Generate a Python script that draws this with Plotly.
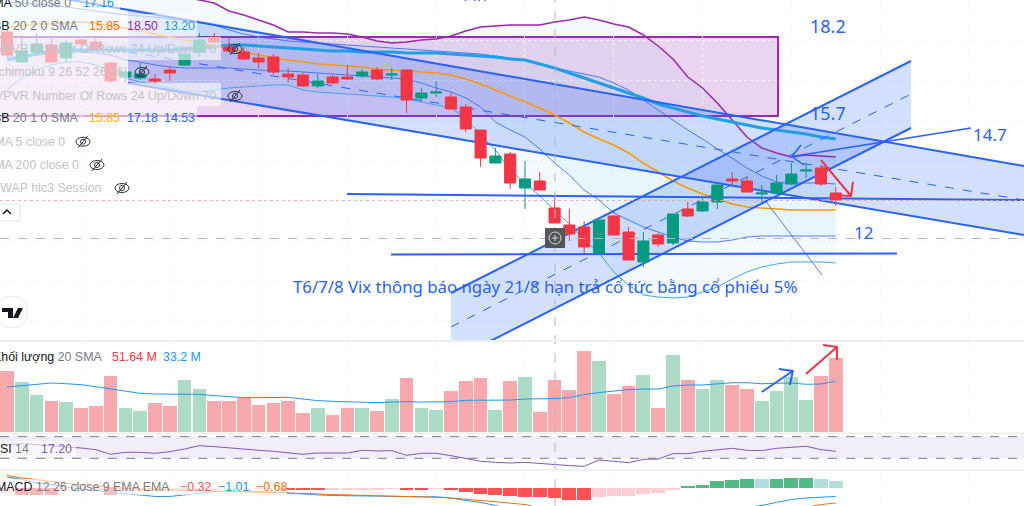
import plotly.graph_objects as go

W = 1024
H = 506

# daily candles, prices
OPEN = [17.925,17.175,17.425,17.6,17.275,17.725,17.675,17.15,16.8,16.775,
        16.75,16.975,17.1,17.425,17.8,17.55,17.425,17.275,17.3,16.875,
        16.85,16.575,16.8,16.8,16.825,16.975,16.85,16.975,16.275,16.4,
        16.3,16.05,15.475,14.65,14.875,14.025,14.2,13.525,13.1,13.05,
        12.4,13.325,12.925,12.175,12.85,12.65,13.5,13.45,13.675,14.25,
        14.2,13.875,13.9,14.125,14.45,14.525,13.9]
CLOSE = [17.35,17.45,17.625,17.175,17.65,17.625,17.5,16.7,16.925,16.875,
         16.7,16.9,17.375,17.725,17.675,17.45,17.25,17.175,16.925,16.8,
         16.575,16.7,16.65,16.75,16.925,16.75,16.875,16.225,16.4,16.425,
         16.0,15.5,14.775,14.825,14.15,14.25,13.975,13.15,12.875,12.55,
         13.225,12.85,12.225,12.7,12.625,13.375,13.325,13.675,14.1,14.2,
         13.925,13.9,14.15,14.375,14.475,14.125,13.725]
HIGH = [17.975,17.775,17.9,17.775,17.725,17.825,17.8,17.175,17.05,17.15,
        16.875,17.075,17.375,17.9,17.9,17.8,17.55,17.4,17.375,17.025,
        16.925,16.875,16.85,17.1,17.0,17.05,17.025,17.0,16.525,16.7,
        16.4,16.125,15.475,15.025,14.925,14.7,14.425,13.8,13.5,13.2,
        13.225,13.35,13.05,12.925,12.9,13.375,13.675,13.8,14.1,14.425,
        14.3,14.1,14.35,14.65,14.65,14.6,14.05]
LOW = [17.3,17.15,17.35,17.15,17.15,17.6,17.475,16.65,16.675,16.725,
       16.6,16.7,17.075,17.3,17.65,17.425,17.225,17.025,16.875,16.675,
       16.55,16.525,16.625,16.725,16.775,16.725,16.725,15.9,16.175,16.3,
       16.0,15.425,14.55,14.65,14.0,13.5,13.975,13.15,12.7,12.4,
       12.4,12.85,12.225,12.05,12.55,12.6,13.3,13.425,13.5,14.05,
       13.9,13.65,13.875,14.1,14.275,14.075,13.575]

# indicators
BB_BASIS = [18.05,18.075,18.125,18.125,18.15,18.175,18.15,18.075,18.025,17.95,
            17.875,17.8,17.725,17.65,17.575,17.525,17.425,17.35,17.275,17.225,
            17.175,17.125,17.1,17.075,17.05,17.0,16.975,16.95,16.925,16.9,
            16.85,16.75,16.625,16.475,16.325,16.175,16.025,15.85,15.65,15.425,
            15.25,15.1,14.9,14.65,14.425,14.2,14.025,13.875,13.75,13.625,
            13.55,13.525,13.5,13.475,13.475,13.475,13.475]
BB2_UPPER = [19.6,19.6,19.6,19.6,19.6,19.6,19.5,19.4,19.3,19.2,
             19.1,19.0,18.8,18.725,18.65,18.45,18.35,18.225,18.1,17.925,
             17.925,17.9,17.9,17.875,17.8,17.7,17.65,17.675,17.725,17.75,
             17.825,17.95,18.05,18.075,18.1,18.1,18.1,18.175,18.225,18.3,
             18.225,18.125,18.05,17.85,17.575,17.25,16.8,16.525,16.15,15.725,
             15.3,15.025,14.9,14.8,14.85,14.825,14.8]
BB2_LOWER = [16.475,16.775,16.975,17.1,17.175,17.175,17.1,16.95,16.775,16.675,
             16.6,16.525,16.45,16.425,16.475,16.525,16.55,16.575,16.6,16.6,
             16.475,16.425,16.4,16.375,16.35,16.325,16.3,16.25,16.175,16.1,
             16.025,15.775,15.35,14.975,14.475,14.15,13.825,13.475,13.125,12.725,
             12.4,11.925,11.6,11.35,11.3,11.275,11.3,11.425,11.55,11.75,
             11.925,12.05,12.125,12.175,12.175,12.175,12.15]
BB1_UPPER = [18.675,18.65,18.625,18.6,18.55,18.5,18.45,18.4,18.35,18.325,
             18.3,18.25,18.225,18.175,18.1,17.975,17.875,17.8,17.75,17.7,
             17.675,17.65,17.625,17.6,17.575,17.55,17.525,17.5,17.475,17.45,
             17.425,17.4,17.375,17.325,17.275,17.225,17.125,17.025,16.95,16.875,
             16.8,16.65,16.475,16.225,15.975,15.725,15.475,15.25,15.0,14.775,
             14.525,14.325,14.175,14.15,14.15,14.15,14.125]
BB1_LOWER = [17.3,17.3,17.35,17.375,17.425,17.425,17.4,17.35,17.225,17.175,
             17.1,17.05,17.025,17.025,17.025,17.025,17.0,16.975,16.95,16.95,
             16.925,16.9,16.875,16.85,16.825,16.8,16.775,16.75,16.65,16.525,
             16.425,16.275,16.05,15.675,15.475,15.3,15.0,14.65,14.35,13.975,
             13.725,13.4,13.225,13.05,12.925,12.8,12.7,12.675,12.675,12.725,
             12.8,12.825,12.825,12.825,12.825,12.825,12.825]
MA50 = [17.225,17.3,17.375,17.45,17.475,17.475,17.475,17.475,17.475,17.475,
        17.475,17.475,17.5,17.525,17.55,17.6,17.6,17.575,17.55,17.525,
        17.5,17.475,17.45,17.45,17.425,17.425,17.425,17.4,17.4,17.4,
        17.375,17.35,17.325,17.3,17.25,17.225,17.125,17.025,16.9,16.775,
        16.65,16.525,16.4,16.275,16.125,16.025,15.925,15.825,15.75,15.675,
        15.6,15.525,15.475,15.425,15.375,15.3,15.25]

VOLUME = [42.4,34.7,25.6,21.9,20.9,16.5,18.4,38.9,17.0,14.9,
          20.0,18.4,36.1,30.0,21.9,21.9,23.5,18.8,20.0,21.4,
          13.0,16.5,12.1,17.0,16.5,14.4,23.3,37.9,17.0,15.6,
          28.6,35.6,37.5,15.6,35.6,38.4,14.0,36.1,29.3,56.5,
          49.8,26.8,32.1,39.6,17.0,53.7,36.5,30.0,36.1,33.0,
          29.8,21.4,28.6,38.4,22.3,38.9,51.6]
VOLUME_DIR = "rggrgrrrgg" "rrggrrrrrr" "rgrrgrgrgg" "rrrgrgrrrr" "grrgrgrggr" "rggggrr"
VOLUME_SMA = [31.4,32.3,33.5,34.2,33.7,33.0,31.6,30.0,28.6,27.0,
              26.5,26.5,26.5,26.3,25.4,24.7,24.0,24.0,24.2,24.2,
              23.0,21.9,21.4,21.2,20.7,20.5,20.9,21.2,20.9,20.9,
              21.2,22.1,22.1,22.1,22.3,23.0,23.0,23.3,24.0,26.1,
              27.5,28.6,29.6,30.0,30.0,32.1,32.8,32.8,33.5,34.4,
              34.4,33.7,34.0,34.2,33.3,33.5,35.4]

RSI = [55.3,57.1,55.3,53.4,52.2,49.1,46.0,37.4,41.1,41.1,
       39.2,42.3,47.2,53.4,51.6,49.1,46.0,44.8,42.9,39.8,
       37.4,39.8,39.8,39.8,44.8,43.5,44.2,35.5,39.2,39.2,
       34.9,29.3,24.4,22.6,21.3,22.6,20.1,17.6,16.4,15.1,
       26.9,24.4,21.9,28.1,28.7,38.6,38.6,42.9,46.0,48.5,
       44.8,44.2,48.5,51.0,52.2,46.0,42.9]
RSI_UPPER = 70
RSI_LOWER = 30

MACD_HIST = [-0.16,-0.2,-0.2,-0.2,-0.08,-0.05,-0.1,-0.2,-0.1,-0.08,
             -0.08,-0.1,-0.06,-0.03,-0.04,-0.04,-0.03,-0.02,-0.02,-0.04,
             -0.06,-0.06,-0.06,-0.06,-0.04,-0.04,-0.02,-0.04,-0.04,-0.02,
             -0.06,-0.13,-0.19,-0.2,-0.26,-0.28,-0.28,-0.32,-0.36,-0.38,
             -0.28,-0.26,-0.26,-0.19,-0.15,-0.04,0.07,0.12,0.22,0.28,
             0.3,0.3,0.3,0.32,0.32,0.3,0.24]
MACD_DIR = "pDDDpppDpp" "pppppppppD" "DDpppppDDp" "DDDDDDDDDD" "ppppppGGGG" "GqGGGqq"
MACD_LINE = [0.36,0.28,0.17,0.12,0.04,-0.02,-0.07,-0.13,-0.17,-0.21,
             -0.26,-0.26,-0.21,-0.15,-0.11,-0.1,-0.1,-0.1,-0.11,-0.15,
             -0.19,-0.21,-0.23,-0.24,-0.25,-0.26,-0.26,-0.27,-0.27,-0.27,
             -0.31,-0.39,-0.45,-0.55,-0.63,-0.74,-0.88,-1.01,-1.16,-1.32,
             -1.27,-1.24,-1.22,-1.16,-1.11,-1.0,-0.9,-0.82,-0.74,-0.66,
             -0.6,-0.55,-0.45,-0.36,-0.31,-0.28,-0.26]
MACD_SIGNAL = [0.41,0.33,0.28,0.21,0.16,0.12,0.07,0.03,0.0,-0.02,
               -0.04,-0.05,-0.07,-0.08,-0.09,-0.1,-0.11,-0.12,-0.13,-0.15,
               -0.17,-0.18,-0.2,-0.21,-0.23,-0.24,-0.25,-0.26,-0.27,-0.29,
               -0.31,-0.34,-0.39,-0.43,-0.47,-0.52,-0.63,-0.68,-0.79,-0.95,
               -1.0,-1.06,-1.06,-1.0,-0.95,-0.95,-0.95,-0.95,-0.95,-0.95,
               -0.9,-0.84,-0.77,-0.68,-0.61,-0.52,-0.47]

# hand drawn lines on the price pane: bar position and price of each end
FALL_UPPER_X = [3.58, 68.72]
FALL_UPPER_Y = [18.775, 14.575]
FALL_LOWER_X = [8.18, 68.72]
FALL_LOWER_Y = [16.65, 12.85]
FALL_MID_Y = [17.425, 13.725]
FALL_FILL_X = [8.18, 68.72, 68.72, 8.18]
FALL_FILL_Y = [18.525, 14.575, 12.85, 16.65]
RISE_X = [30.0, 61.08]
RISE_UPPER_Y = [11.4, 17.2]
RISE_LOWER_Y = [9.7, 15.525]
RISE_MID_Y = [10.55, 16.375]
SUPPORT_X = [22.97, 68.72]
SUPPORT_Y = [13.875, 13.725]
FLOOR_X = [25.95, 60.14]
FLOOR_Y = [12.3625, 12.3875]
STEEP_X = [51.2, 55.07]
STEEP_Y = [13.725, 11.85]
BOX_X = [-1, 52.1]
BOX_Y = [15.825, 17.8]
ARROW_BLUE_X = [65.14, 53.04, 53.65, 53.04, 53.85]
ARROW_BLUE_Y = [15.525, 14.8125, 15.1, 14.8125, 14.6]
ARROW_RED_X = [55.0, 57.03, 57.16, 57.03, 55.74]
ARROW_RED_Y = [14.725, 13.825, 14.175, 13.825, 13.85]
VOL_ARROW_BLUE_X = [51.0, 53.1, 52.16, 53.1, 52.9]
VOL_ARROW_BLUE_Y = [27.9, 42.6, 44.0, 42.6, 32.8]
VOL_ARROW_RED_X = [53.99, 56.08, 55.14, 56.08, 56.08]
VOL_ARROW_RED_Y = [40.5, 59.3, 60.7, 59.3, 50.3]

LAST_PRICE = 13.7125
CROSS_BAR = 37.03
CROSS_PRICE = 12.7625

BARS = list(range(len(CLOSE)))

BLUE = "#2962ff"
RED = "#f23645"
TEAL = "#089981"
PURPLE = "#9c27b0"
FONT = "Liberation Sans"
PRICE_RANGE = [10.225, 18.725]

fig = go.Figure()


def line(x, y, color, width=1, dash="solid", yaxis="y"):
    fig.add_trace(go.Scatter(x=x, y=y, mode="lines", yaxis=yaxis, hoverinfo="skip", connectgaps=True,
                             line=dict(color=color, width=width, dash=dash)))


def poly(x, y, color):
    fig.add_trace(go.Scatter(x=x, y=y, mode="lines", fill="toself", fillcolor=color, hoverinfo="skip",
                             line=dict(width=0)))


def band(upper, lower, color):
    fig.add_trace(go.Scatter(x=BARS, y=upper, mode="lines", line=dict(width=0), hoverinfo="skip"))
    fig.add_trace(go.Scatter(x=BARS, y=lower, mode="lines", line=dict(width=0), hoverinfo="skip",
                             fill="tonexty", fillcolor=color))


# price pane
band(BB2_UPPER, BB2_LOWER, "rgba(33,150,243,0.05)")
band(BB1_UPPER, BB1_LOWER, "rgba(33,150,243,0.05)")
poly(FALL_FILL_X, FALL_FILL_Y, "rgba(41,98,255,0.2)")
poly(RISE_X + RISE_X[::-1], RISE_UPPER_Y + RISE_LOWER_Y[::-1], "rgba(41,98,255,0.2)")

line(BARS, BB2_UPPER, PURPLE, 1.5)
line(BARS, BB2_LOWER, "#42a5f5", 1)
line(BARS, BB1_UPPER, "#2962ff", 0.8)
line(BARS, BB1_LOWER, "#2962ff", 0.8)
line(BARS, MA50, "#1e9fe8", 3)
line(BARS, BB_BASIS, "#ff9800", 1.5)

line(FALL_UPPER_X, FALL_UPPER_Y, BLUE, 2)
line(FALL_LOWER_X, FALL_LOWER_Y, BLUE, 2)
line(FALL_LOWER_X, FALL_MID_Y, BLUE, 1, "dash")
line(RISE_X, RISE_UPPER_Y, BLUE, 2)
line(RISE_X, RISE_LOWER_Y, BLUE, 2)
line(RISE_X, RISE_MID_Y, BLUE, 1, "dash")
line(SUPPORT_X, SUPPORT_Y, BLUE, 2)
line(FLOOR_X, FLOOR_Y, BLUE, 2)
line(STEEP_X, STEEP_Y, BLUE, 0.8)
line(ARROW_BLUE_X, ARROW_BLUE_Y, BLUE, 1.5)

# candles live on an overlaid axis so the scatter fills do not tint them
fig.add_trace(go.Candlestick(
    x=BARS, open=OPEN, high=HIGH, low=LOW, close=CLOSE, yaxis="y5", whiskerwidth=0, hoverinfo="skip",
    increasing=dict(line=dict(color=TEAL, width=1), fillcolor=TEAL),
    decreasing=dict(line=dict(color=RED, width=1), fillcolor=RED),
))
line(ARROW_RED_X, ARROW_RED_Y, RED, 2, yaxis="y5")

# volume pane
VOL_COLORS = {"r": "#f7a9ad", "g": "#acdcc5"}
fig.add_trace(go.Bar(x=BARS, y=VOLUME, yaxis="y2", width=0.93, hoverinfo="skip",
                     marker=dict(color=[VOL_COLORS[d] for d in VOLUME_DIR], line=dict(width=0))))
line(BARS, VOLUME_SMA, "#2196f3", 1, yaxis="y2")
line(VOL_ARROW_BLUE_X, VOL_ARROW_BLUE_Y, BLUE, 2, yaxis="y2")
line(VOL_ARROW_RED_X, VOL_ARROW_RED_Y, RED, 2, yaxis="y2")

# rsi pane
line(BARS, RSI, "#7e57c2", 1, yaxis="y3")

# macd pane
MACD_COLORS = {"D": "#ff5252", "p": "#ffcdd2", "G": "#53b987", "q": "#b2dfdb"}
fig.add_trace(go.Bar(x=BARS, y=MACD_HIST, yaxis="y4", width=0.93, hoverinfo="skip",
                     marker=dict(color=[MACD_COLORS[d] for d in MACD_DIR], line=dict(width=0))))
line(BARS, MACD_LINE, "#2196f3", 1, yaxis="y4")
line(BARS, MACD_SIGNAL, "#ff6d00", 1, yaxis="y4")


def px(x):
    return x / W


def py(y):
    return 1 - y / H


def chrome_rect(x0, y0, x1, y1, fill="rgba(255,255,255,0.6)", border=None, layer="above"):
    fig.add_shape(type="rect", xref="paper", yref="paper", x0=px(x0), x1=px(x1), y0=py(y0), y1=py(y1),
                  fillcolor=fill, line=dict(width=1 if border else 0, color=border or "white"), layer=layer)


def chrome_path(points, color, width=1, fill=None, layer="above"):
    path = "M " + " L ".join(f"{px(x):.5f},{py(y):.5f}" for x, y in points)
    if fill:
        path += " Z"
    fig.add_shape(type="path", xref="paper", yref="paper", path=path, fillcolor=fill,
                  line=dict(color=color, width=width), layer=layer)


def eye(x, y):
    fig.add_shape(type="circle", xref="paper", yref="paper", x0=px(x - 7), x1=px(x + 7), y0=py(y + 4.5), y1=py(y - 4.5),
                  line=dict(color="#2a2e39", width=1))
    fig.add_shape(type="circle", xref="paper", yref="paper", x0=px(x - 2.5), x1=px(x + 2.5), y0=py(y + 2.5), y1=py(y - 2.5),
                  line=dict(color="#2a2e39", width=1))
    chrome_path([(x - 5, y + 6), (x + 5, y - 6)], "#2a2e39", 1)


def label(x, y, text, color, size=12.4, anchor="left", font=FONT):
    fig.add_annotation(xref="paper", yref="paper", x=px(x), y=py(y), text=text, showarrow=False,
                       xanchor=anchor, yanchor="middle", align="left", borderpad=0,
                       font=dict(family=font, size=size, color=color))


def drawn_label(x, y, text, size):
    fig.add_annotation(x=x, y=y, text=text, showarrow=False, xanchor="center", yanchor="middle",
                       font=dict(family="Noto Sans", size=size, color=BLUE))


# purple box and rsi band sit under the candles
fig.add_shape(type="rect", x0=BOX_X[0], x1=BOX_X[1], y0=BOX_Y[0], y1=BOX_Y[1], layer="below",
              fillcolor="rgba(156,39,176,0.2)", line=dict(color=PURPLE, width=2))
fig.add_shape(type="rect", xref="paper", x0=0, x1=1, yref="y3", y0=RSI_LOWER, y1=RSI_UPPER, layer="below",
              fillcolor="rgba(126,87,194,0.1)", line=dict(width=0))
for level in (RSI_UPPER, RSI_LOWER):
    fig.add_shape(type="line", xref="paper", x0=0, x1=1, yref="y3", y0=level, y1=level,
                  line=dict(color="#787b86", width=1, dash="dash"))

# last price and crosshair
fig.add_shape(type="line", xref="paper", x0=0, x1=1, y0=LAST_PRICE, y1=LAST_PRICE,
              line=dict(color="#f79aa1", width=0.8, dash="dot"))
fig.add_shape(type="line", xref="paper", x0=0, x1=1, y0=CROSS_PRICE, y1=CROSS_PRICE,
              line=dict(color="#b2b5be", width=1, dash="dash"))
fig.add_shape(type="line", yref="paper", x0=CROSS_BAR, x1=CROSS_BAR, y0=0, y1=1,
              line=dict(color="#b2b5be", width=1, dash="dash"))

# pane separators
for sep in (341, 433.5, 470):
    chrome_rect(0, sep - 1, W, sep + 1, fill="#eeeff2")

# legend backgrounds
chrome_rect(0, 0, 120, 14)
chrome_rect(0, 14, 197, 37)
chrome_rect(0, 37, 221, 60)
chrome_rect(0, 60, 128, 83)
chrome_rect(0, 83, 221, 106)
chrome_rect(0, 106, 197, 129)
chrome_rect(0, 350, 200, 365)
chrome_rect(0, 441, 76, 457)
chrome_rect(0, 479, 287, 495)

GREY = "#787b86"
FADED = "#c2c3c8"
DARK = "<span style='color:#131722'>{}</span>"
label(72, 3, DARK.format("EMA") + " 50 close 0", GREY, anchor="right")
label(82, 3, "17.16", "#2196f3")
label(79, 25.7, DARK.format("BB") + " 20 2 0 SMA", GREY, anchor="right")
label(88, 25.7, "15.85", "#ff6d00")
label(126, 25.7, "18.50", PURPLE)
label(163, 25.7, "13.20", "#2196f3")
label(217, 49, "VPVR Number Of Rows 24 Up/Down 70", FADED, anchor="right")
label(125, 72, "Ichimoku 9 26 52 26 26", FADED, anchor="right")
label(217, 95.7, "VPVR Number Of Rows 24 Up/Down 70", FADED, anchor="right")
label(79, 118.3, DARK.format("BB") + " 20 1 0 SMA", GREY, anchor="right")
label(88, 118.3, "15.85", "#ffb300")
label(126, 118.3, "17.18", "#2962ff")
label(163, 118.3, "14.53", "#2962ff")
label(66, 141.7, "SMA 5 close 0", FADED, anchor="right")
label(80, 165, "SMA 200 close 0", FADED, anchor="right")
label(103, 188, "VWAP hlc3 Session", FADED, anchor="right")
for ex, ey in ((235, 49), (142, 72), (235, 96), (83, 141.7), (97, 165), (122, 188)):
    eye(ex, ey)

label(103, 357, DARK.format("Khối lượng") + " 20 SMA", GREY, anchor="right")
label(111, 357, "51.64 M", RED)
label(162, 357, "33.2 M", "#2196f3")
label(30, 449, DARK.format("RSI") + " 14", GREY, anchor="right")
label(40, 449, "17.20", "#7e57c2")
label(171, 487, DARK.format("MACD") + " 12 26 close 9 EMA EMA", GREY, anchor="right")
label(179, 487, "\u22120.32", "#ff5252")
label(217, 487, "\u22121.01", "#2196f3")
label(255, 487, "\u22120.68", "#ff6d00")

# collapse button under the legend
chrome_rect(-3, 204, 20, 221, fill="white", border="#e0e3eb")
chrome_path([(3, 214), (7, 210), (11, 214)], "#131722", 1.5)

# logo
fig.add_shape(type="circle", xref="paper", yref="paper", x0=px(-4), x1=px(28), y0=py(328), y1=py(296),
              fillcolor="white", line=dict(color="#e9eaec", width=1))
chrome_path([(2, 308), (13, 308), (13, 318), (8, 318), (8, 312), (2, 312)], "#131722", 0, fill="#131722")
chrome_path([(18, 308), (23, 308), (18, 318), (13, 318)], "#131722", 0, fill="#131722")

# crosshair button
chrome_rect(545, 228, 565, 248, fill="#555659")
fig.add_shape(type="circle", xref="paper", yref="paper", x0=px(549), x1=px(561), y0=py(244), y1=py(232),
              line=dict(color="#d8d8d8", width=1))
chrome_path([(555, 235), (555, 241)], "#d8d8d8", 1)
chrome_path([(552, 238), (558, 238)], "#d8d8d8", 1)

# drawn labels
drawn_label(55.5, 18.075, "18.2", 18)
drawn_label(55.5, 15.9, "15.7", 18)
drawn_label(66.4, 15.375, "14.7", 17)
drawn_label(57.9, 12.925, "12", 17)
drawn_label(36.35, 11.575, "T6/7/8 Vix thông báo ngày 21/8 hạn trả cổ tức bằng cổ phiếu 5%", 16.8)
label(460, -5, "14.1", BLUE, size=14, font="Noto Sans")

GRID = "#f4f5f7"
fig.update_layout(
    width=W, height=H,
    margin=dict(l=0, r=0, t=0, b=0),
    paper_bgcolor="white", plot_bgcolor="rgba(0,0,0,0)",
    showlegend=False, hovermode=False, boxgap=0.25, boxgroupgap=0, bargap=0,
    xaxis=dict(range=[-0.473, 68.72], showticklabels=False, ticks="", zeroline=False, fixedrange=True,
               rangeslider=dict(visible=False), anchor="y4",
               showgrid=True, gridcolor=GRID, griddash="dot", dtick=6, tick0=5),
    yaxis=dict(domain=[1 - 340 / H, 1], range=PRICE_RANGE, showticklabels=False, ticks="", zeroline=False,
               showgrid=True, gridcolor=GRID, griddash="dot", dtick=1, tick0=0.725, fixedrange=True),
    yaxis2=dict(domain=[1 - 432 / H, 1 - 342 / H], range=[0, 62.82], showticklabels=False, ticks="", zeroline=False,
                showgrid=False, fixedrange=True),
    yaxis3=dict(domain=[1 - 469 / H, 1 - 435 / H], range=[10.2, 73.1], showticklabels=False, ticks="", zeroline=False,
                showgrid=False, fixedrange=True),
    yaxis4=dict(domain=[0, 1 - 472 / H], range=[-0.566, 0.522], showticklabels=False, ticks="", zeroline=False,
                showgrid=False, fixedrange=True),
    yaxis5=dict(overlaying="y", range=PRICE_RANGE, showticklabels=False, ticks="", zeroline=False,
                showgrid=False, fixedrange=True),
)

fig.write_html("out.html", config=dict(displayModeBar=False),
               post_script="document.body.style.margin='0';")
